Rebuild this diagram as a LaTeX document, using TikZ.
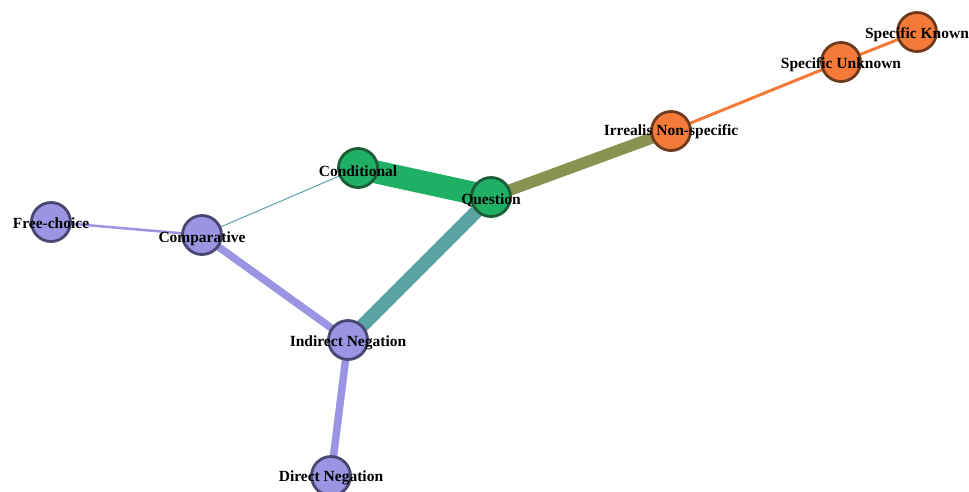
\documentclass[tikz,border=0pt]{standalone}
\usepackage{fontspec}
\setmainfont{Liberation Serif}
\definecolor{orfill}{HTML}{F47A3A}
\definecolor{ordraw}{HTML}{6E3A1E}
\definecolor{grfill}{HTML}{20B065}
\definecolor{grdraw}{HTML}{1A5C36}
\definecolor{lvfill}{HTML}{9A94E2}
\definecolor{lvdraw}{HTML}{4A4670}
\definecolor{olive}{HTML}{8A9252}
\definecolor{tealc}{HTML}{5AA2A4}
\definecolor{tealthin}{HTML}{4E9AA0}
\begin{document}
\begin{tikzpicture}[x=1pt,y=-1pt,
  vtx/.style={circle,minimum size=39pt,inner sep=0pt,line width=2.8pt},
  orv/.style={vtx,fill=orfill,draw=ordraw},
  grv/.style={vtx,fill=grfill,draw=grdraw},
  lvv/.style={vtx,fill=lvfill,draw=lvdraw},
  lbl/.style={font=\fontsize{15.5}{15.5}\selectfont\bfseries,inner sep=0pt,text=black}]
\useasboundingbox (0,0) rectangle (969,491);
% vertices (coordinates)
\coordinate (sk) at (917,32);
\coordinate (su) at (841,62);
\coordinate (ir) at (671,131);
\coordinate (co) at (358,168);
\coordinate (qu) at (491,197);
\coordinate (fc) at (51,222);
\coordinate (cp) at (202,235);
\coordinate (in) at (348,340);
\coordinate (dn) at (331,476);
% edges
\draw[line width=23pt,grfill] (co) -- (qu);
\draw[line width=11.5pt,olive] (qu) -- (ir);
\draw[line width=13.5pt,tealc] (qu) -- (in);
\draw[line width=7.5pt,lvfill] (cp) -- (in);
\draw[line width=7.5pt,lvfill] (in) -- (dn);
\draw[line width=2.5pt,lvfill] (fc) -- (cp);
\draw[line width=0.9pt,tealthin] (cp) -- (co);
\draw[line width=3pt,orfill] (ir) -- (su);
\draw[line width=3pt,orfill] (su) -- (sk);
% nodes
\node[orv] (nsk) at (sk) {};
\node[orv] (nsu) at (su) {};
\node[orv] (nir) at (ir) {};
\node[grv] (nco) at (co) {};
\node[grv] (nqu) at (qu) {};
\node[lvv] (nfc) at (fc) {};
\node[lvv] (ncp) at (cp) {};
\node[lvv] (nin) at (in) {};
\node[lvv] (ndn) at (dn) {};
% labels
\node[lbl] (tsk) at ([yshift=-3pt]sk) {Specific Known};
\node[lbl] (tsu) at ([yshift=-3pt]su) {Specific Unknown};
\node[lbl] (tir) at ([yshift=-1pt]ir) {Irrealis Non-specific};
\node[lbl] (tco) at ([yshift=-3pt]co) {Conditional};
\node[lbl] (tqu) at ([yshift=-3pt]qu) {Question};
\node[lbl] (tfc) at ([yshift=-1pt]fc) {Free-choice};
\node[lbl] (tcp) at ([yshift=-4pt]cp) {Comparative};
\node[lbl] (tin) at ([yshift=-3pt]in) {Indirect Negation};
\node[lbl] (tdn) at ([yshift=-2pt]dn) {Direct Negation};
\end{tikzpicture}
\end{document}
